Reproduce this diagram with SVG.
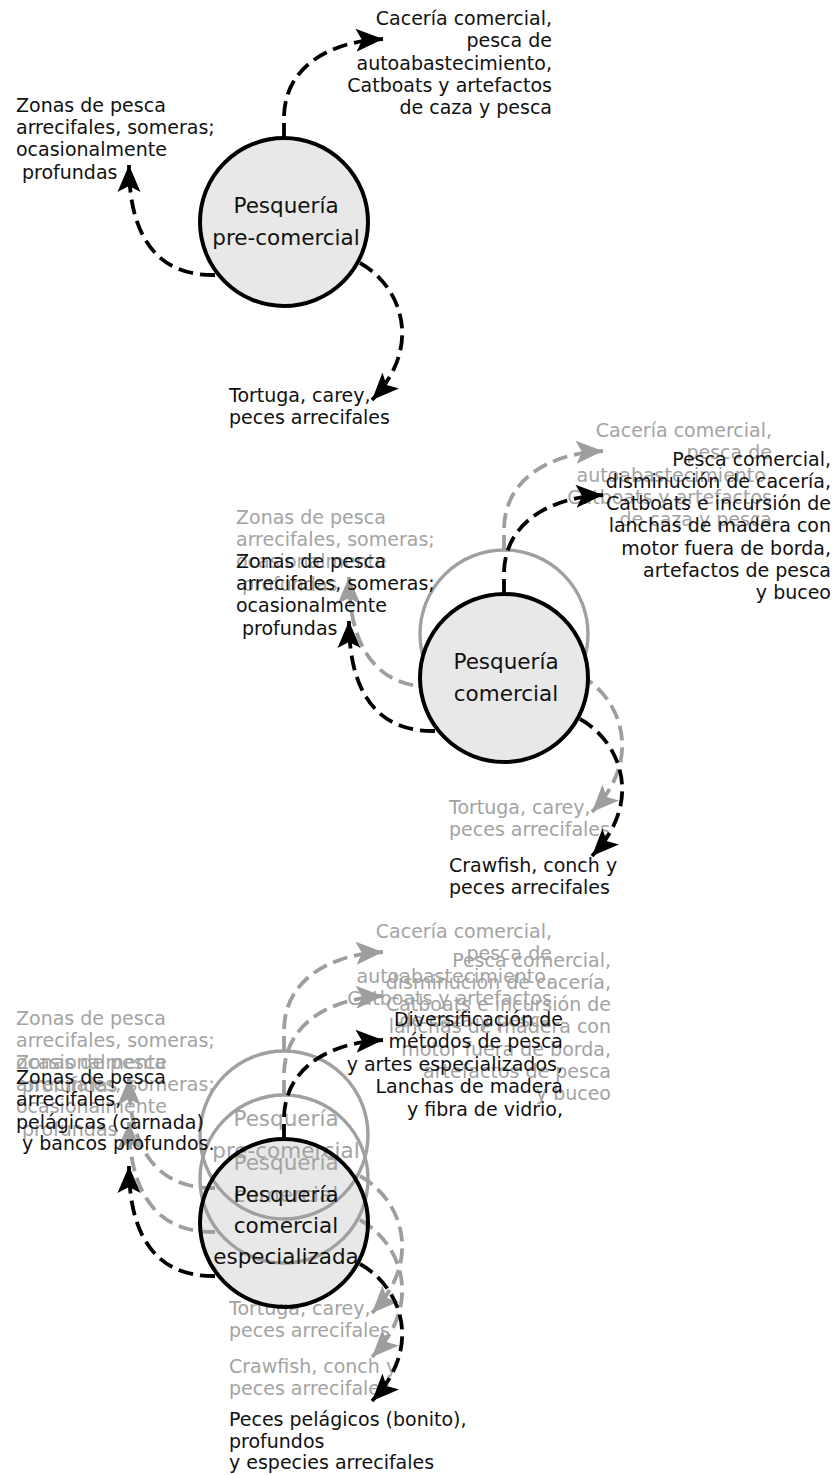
<svg xmlns="http://www.w3.org/2000/svg" width="837" height="1475" viewBox="0 0 837 1475">
<defs>
<style>
text{font-family:"DejaVu Sans","Liberation Sans",sans-serif;font-size:19px}
.lbl{font-size:21.5px;text-anchor:middle}
.end{text-anchor:end}
.k text{fill:#111}
.g text{fill:#a3a3a3}
.arr{fill:none;stroke-width:3.8;stroke-dasharray:15 7}
.k .arr{stroke:#000;marker-end:url(#mk)}
.g .arr{stroke:#9e9e9e;marker-end:url(#mg)}
.c{fill:#e8e8e8;stroke:#000;stroke-width:4}
.g .c{fill:none;stroke:#a0a0a0;stroke-width:3.4}
.fillonly{fill:#e8e8e8;stroke:none}
.strokeonly{fill:none;stroke:#000;stroke-width:4}
</style>
<marker id="mk" markerUnits="userSpaceOnUse" viewBox="0 0 28 24" markerWidth="28" markerHeight="24" refX="27" refY="12" orient="auto"><path d="M0,0.5 L27,12 L0,23.5 L6,12 Z" fill="#000"/></marker>
<marker id="mg" markerUnits="userSpaceOnUse" viewBox="0 0 28 24" markerWidth="28" markerHeight="24" refX="27" refY="12" orient="auto"><path d="M0,0.5 L27,12 L0,23.5 L6,12 Z" fill="#9e9e9e"/></marker>
</defs>

<!-- PANEL 1 -->
<g id="panel1" class="k">
  <g id="p1-connectors">
    <path class="arr" d="M284,138 L284,118 C284,72 322,42 383,39"/>
    <path class="arr" d="M215,275 C163,276 129,244 129,165"/>
    <path class="arr" d="M360,263 C400,285 425,345 372,400"/>
  </g>
  <g id="p1-node">
    <circle class="c" cx="284" cy="222" r="84"/>
    <text class="lbl" x="286" y="213">Pesquería</text>
    <text class="lbl" x="286" y="245">pre-comercial</text>
  </g>
  <g id="p1-text-top">
    <text class="end" x="552" y="25">Cacería comercial,</text>
    <text class="end" x="552" y="47">pesca de</text>
    <text class="end" x="552" y="70">autoabastecimiento,</text>
    <text class="end" x="552" y="92">Catboats y artefactos</text>
    <text class="end" x="552" y="114">de caza y pesca</text>
  </g>
  <g id="p1-text-left">
    <text x="16" y="112">Zonas de pesca</text>
    <text x="16" y="134">arrecifales, someras;</text>
    <text x="16" y="156">ocasionalmente</text>
    <text x="22" y="179">profundas</text>
  </g>
  <g id="p1-text-bottom">
    <text x="229" y="402">Tortuga, carey,</text>
    <text x="229" y="424">peces arrecifales</text>
  </g>
</g>

<!-- PANEL 2 -->
<g id="panel2-prev" class="g" transform="translate(220,412)">
  <g id="p2g-connectors">
    <path class="arr" d="M284,138 L284,118 C284,72 322,42 383,39"/>
    <path class="arr" d="M215,275 C163,276 129,244 129,165"/>
    <path class="arr" d="M360,263 C400,285 425,345 372,400"/>
  </g>
  <g id="p2g-node">
    <circle class="c" cx="284" cy="222" r="84"/>
  </g>
  <g id="p2g-text-top">
    <text class="end" x="552" y="25">Cacería comercial,</text>
    <text class="end" x="552" y="47">pesca de</text>
    <text class="end" x="552" y="70">autoabastecimiento,</text>
    <text class="end" x="552" y="92">Catboats y artefactos</text>
    <text class="end" x="552" y="114">de caza y pesca</text>
  </g>
  <g id="p2g-text-left">
    <text x="16" y="112">Zonas de pesca</text>
    <text x="16" y="134">arrecifales, someras;</text>
    <text x="16" y="156">ocasionalmente</text>
    <text x="22" y="179">profundas</text>
  </g>
  <g id="p2g-text-bottom">
    <text x="229" y="402">Tortuga, carey,</text>
    <text x="229" y="424">peces arrecifales</text>
  </g>
</g>
<g id="panel2" class="k" transform="translate(220,456)">
  <g id="p2-connectors">
    <path class="arr" d="M284,138 L284,118 C284,72 322,42 383,39"/>
    <path class="arr" d="M215,275 C163,276 129,244 129,165"/>
    <path class="arr" d="M360,263 C400,285 425,345 372,400"/>
  </g>
  <g id="p2-node">
    <circle class="c" cx="284" cy="222" r="84"/>
    <text class="lbl" x="286" y="213">Pesquería</text>
    <text class="lbl" x="286" y="245">comercial</text>
  </g>
  <g id="p2-text-top">
    <text class="end" x="611" y="10">Pesca comercial,</text>
    <text class="end" x="611" y="32">disminución de cacería,</text>
    <text class="end" x="611" y="54">Catboats e incursión de</text>
    <text class="end" x="611" y="76">lanchas de madera con</text>
    <text class="end" x="611" y="99">motor fuera de borda,</text>
    <text class="end" x="611" y="121">artefactos de pesca</text>
    <text class="end" x="611" y="143">y buceo</text>
  </g>
  <g id="p2-text-left">
    <text x="16" y="112">Zonas de pesca</text>
    <text x="16" y="134">arrecifales, someras;</text>
    <text x="16" y="156">ocasionalmente</text>
    <text x="22" y="179">profundas</text>
  </g>
  <g id="p2-text-bottom">
    <text x="229" y="416">Crawfish, conch y</text>
    <text x="229" y="438">peces arrecifales</text>
  </g>
</g>

<!-- PANEL 3 -->
<circle id="p3-node-fill" class="fillonly" cx="284" cy="1223" r="84"/>
<g id="panel3-prev1" class="g" transform="translate(0,913)">
  <g id="p3g1-connectors">
    <path class="arr" d="M284,138 L284,118 C284,72 322,42 383,39"/>
    <path class="arr" d="M215,275 C163,276 129,244 129,165"/>
    <path class="arr" d="M360,263 C400,285 425,345 372,400"/>
  </g>
  <g id="p3g1-node">
    <circle class="c" cx="284" cy="222" r="84"/>
    <text class="lbl" x="286" y="213">Pesquería</text>
    <text class="lbl" x="286" y="245">pre-comercial</text>
  </g>
  <g id="p3g1-text-top">
    <text class="end" x="552" y="25">Cacería comercial,</text>
    <text class="end" x="552" y="47">pesca de</text>
    <text class="end" x="552" y="70">autoabastecimiento,</text>
    <text class="end" x="552" y="92">Catboats y artefactos</text>
    <text class="end" x="552" y="114">de caza y pesca</text>
  </g>
  <g id="p3g1-text-left">
    <text x="16" y="112">Zonas de pesca</text>
    <text x="16" y="134">arrecifales, someras;</text>
    <text x="16" y="156">ocasionalmente</text>
    <text x="22" y="179">profundas</text>
  </g>
  <g id="p3g1-text-bottom">
    <text x="229" y="402">Tortuga, carey,</text>
    <text x="229" y="424">peces arrecifales</text>
  </g>
</g>
<g id="panel3-prev2" class="g" transform="translate(0,957)">
  <g id="p3g2-connectors">
    <path class="arr" d="M284,138 L284,118 C284,72 322,42 383,39"/>
    <path class="arr" d="M215,275 C163,276 129,244 129,165"/>
    <path class="arr" d="M360,263 C400,285 425,345 372,400"/>
  </g>
  <g id="p3g2-node">
    <circle class="c" cx="284" cy="222" r="84"/>
    <text class="lbl" x="286" y="213">Pesquería</text>
    <text class="lbl" x="286" y="245">comercial</text>
  </g>
  <g id="p3g2-text-top">
    <text class="end" x="611" y="10">Pesca comercial,</text>
    <text class="end" x="611" y="32">disminución de cacería,</text>
    <text class="end" x="611" y="54">Catboats e incursión de</text>
    <text class="end" x="611" y="76">lanchas de madera con</text>
    <text class="end" x="611" y="99">motor fuera de borda,</text>
    <text class="end" x="611" y="121">artefactos de pesca</text>
    <text class="end" x="611" y="143">y buceo</text>
  </g>
  <g id="p3g2-text-left">
    <text x="16" y="112">Zonas de pesca</text>
    <text x="16" y="134">arrecifales, someras;</text>
    <text x="16" y="156">ocasionalmente</text>
    <text x="22" y="179">profundas</text>
  </g>
  <g id="p3g2-text-bottom">
    <text x="229" y="416">Crawfish, conch y</text>
    <text x="229" y="438">peces arrecifales</text>
  </g>
</g>
<g id="panel3" class="k" transform="translate(0,1001)">
  <g id="p3-connectors">
    <path class="arr" d="M284,138 L284,118 C284,72 322,42 383,39"/>
    <path class="arr" d="M215,275 C163,276 129,244 129,165"/>
    <path class="arr" d="M360,263 C400,285 425,345 372,400"/>
  </g>
  <g id="p3-node">
    <circle class="strokeonly" cx="284" cy="222" r="84"/>
    <text class="lbl" x="286" y="201">Pesquería</text>
    <text class="lbl" x="286" y="232">comercial</text>
    <text class="lbl" x="286" y="263">especializada</text>
  </g>
  <g id="p3-text-top">
    <text class="end" x="563" y="25">Diversificación de</text>
    <text class="end" x="563" y="47">métodos de pesca</text>
    <text class="end" x="563" y="70">y artes especializados,</text>
    <text class="end" x="563" y="92">Lanchas de madera</text>
    <text class="end" x="563" y="115">y fibra de vidrio,</text>
  </g>
  <g id="p3-text-left">
    <text x="16" y="83">Zonas de pesca</text>
    <text x="16" y="105">arrecifales,</text>
    <text x="16" y="128">pelágicas (carnada)</text>
    <text x="22" y="149">y bancos profundos.</text>
  </g>
  <g id="p3-text-bottom">
    <text x="229" y="425">Peces pelágicos (bonito),</text>
    <text x="229" y="447">profundos</text>
    <text x="229" y="468">y especies arrecifales</text>
  </g>
</g>
</svg>
